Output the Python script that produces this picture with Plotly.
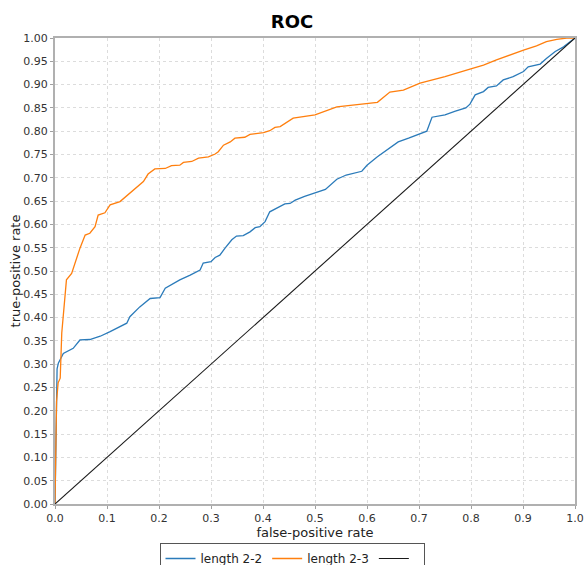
import plotly.graph_objects as go

# length 2-2 (blue)
fpr_22 = [0.0, 0.002, 0.003, 0.004, 0.0064, 0.016, 0.035, 0.048, 0.067, 0.087, 0.106, 0.125,
          0.138, 0.144, 0.163, 0.183, 0.202, 0.212, 0.24, 0.26, 0.279, 0.285, 0.3, 0.308,
          0.317, 0.327, 0.34, 0.349, 0.362, 0.375, 0.385, 0.394, 0.404, 0.413, 0.426, 0.442,
          0.452, 0.462, 0.48, 0.5, 0.52, 0.542, 0.56, 0.59, 0.6, 0.62, 0.644, 0.66, 0.68,
          0.70, 0.715, 0.725, 0.75, 0.77, 0.79, 0.798, 0.808, 0.824, 0.833, 0.849, 0.862,
          0.881, 0.901, 0.910, 0.933, 0.945, 0.962, 0.978, 1.0]
tpr_22 = [0.0, 0.12, 0.22, 0.29, 0.302, 0.323, 0.334, 0.352, 0.353, 0.36, 0.37, 0.38,
          0.388, 0.402, 0.423, 0.441, 0.443, 0.463, 0.481, 0.491, 0.502, 0.517, 0.52, 0.529,
          0.534, 0.549, 0.567, 0.575, 0.576, 0.584, 0.593, 0.595, 0.606, 0.627, 0.634, 0.644,
          0.645, 0.652, 0.660, 0.667, 0.675, 0.697, 0.706, 0.714, 0.727, 0.745, 0.765, 0.777, 0.785,
          0.793, 0.80, 0.83, 0.835, 0.843, 0.85, 0.858, 0.878, 0.885, 0.894, 0.897, 0.910,
          0.917, 0.928, 0.938, 0.944, 0.956, 0.971, 0.981, 1.0]

# length 2-3 (orange)
fpr_23 = [0.0, 0.003, 0.006, 0.01, 0.013, 0.022, 0.032, 0.038, 0.048, 0.058, 0.067, 0.077,
          0.083, 0.096, 0.106, 0.125, 0.144, 0.157, 0.170, 0.179, 0.192, 0.212, 0.224, 0.240,
          0.247, 0.263, 0.276, 0.295, 0.308, 0.314, 0.324, 0.337, 0.346, 0.365, 0.375, 0.401,
          0.413, 0.423, 0.433, 0.458, 0.5, 0.542, 0.58, 0.62, 0.644, 0.67, 0.702, 0.75, 0.798,
          0.824, 0.849, 0.875, 0.901, 0.926, 0.945, 0.965, 0.984, 1.0]
tpr_23 = [0.0, 0.22, 0.26, 0.27, 0.367, 0.481, 0.495, 0.517, 0.549, 0.577, 0.581, 0.595,
          0.62, 0.625, 0.642, 0.649, 0.667, 0.680, 0.692, 0.708, 0.719, 0.720, 0.726, 0.727,
          0.733, 0.735, 0.742, 0.745, 0.751, 0.756, 0.770, 0.777, 0.785, 0.787, 0.793, 0.797,
          0.801, 0.808, 0.810, 0.828, 0.835, 0.852, 0.857, 0.862, 0.884, 0.888, 0.903, 0.917, 0.933,
          0.942, 0.953, 0.964, 0.974, 0.983, 0.992, 0.997, 1.0, 1.0]

# chance diagonal
diag_x = [0.0, 1.0]
diag_y = [0.0, 1.0]

x_ticks = [0.0, 0.1, 0.2, 0.3, 0.4, 0.5, 0.6, 0.7, 0.8, 0.9, 1.0]
y_ticks = [i * 0.05 for i in range(21)]

FONT = "DejaVu Sans"

fig = go.Figure()
fig.add_trace(go.Scatter(x=fpr_22, y=tpr_22, mode="lines", name="length 2-2",
                         line=dict(color="#2b7bba", width=1.3)))
fig.add_trace(go.Scatter(x=fpr_23, y=tpr_23, mode="lines", name="length 2-3",
                         line=dict(color="#ff7f0e", width=1.3)))
fig.add_trace(go.Scatter(x=diag_x, y=diag_y, mode="lines", name=" ",
                         line=dict(color="#1a1a1a", width=1.1)))

axis_common = dict(
    showline=True, linecolor="#b0b0b0", linewidth=2, mirror=True,
    ticks="outside", ticklen=3, tickcolor="#a0a0a0",
    showgrid=True, gridcolor="#dcdcdc", griddash="3px,3px", gridwidth=1,
    zeroline=False, automargin=False,
    tickfont=dict(family=FONT, size=11, color="#333333"),
)

fig.update_layout(
    width=584, height=565,
    margin=dict(l=55, r=9, t=38, b=61, autoexpand=False),
    plot_bgcolor="white", paper_bgcolor="white",
    font=dict(family=FONT, color="#222222"),
    title=dict(text="<b>ROC</b>", x=0.5, xref="container", xanchor="center",
               y=1 - 22 / 565, yref="container", yanchor="middle",
               font=dict(family=FONT, size=18, color="#000000")),
    xaxis=dict(range=[0, 1], tickvals=x_ticks, tickformat=".1f",
               title=dict(text="false-positive rate", font=dict(family=FONT, size=13), standoff=0),
               **axis_common),
    yaxis=dict(range=[0, 1], tickvals=y_ticks, tickformat=".2f",
               title=dict(text="true-positive rate", font=dict(family=FONT, size=13), standoff=0),
               **axis_common),
    legend=dict(orientation="h", xref="container", yref="container",
                x=0.5, xanchor="center", y=1 - 543 / 565, yanchor="top",
                bordercolor="#555555", borderwidth=1, bgcolor="white",
                font=dict(family=FONT, size=12, color="#222222"),
                itemwidth=30, tracegroupgap=0),
    showlegend=True,
)

fig.write_html(
    "out.html",
    config={"displayModeBar": False},
    post_script="document.documentElement.style.margin='0';document.body.style.margin='0';"
                "document.body.style.overflow='hidden';",
)
